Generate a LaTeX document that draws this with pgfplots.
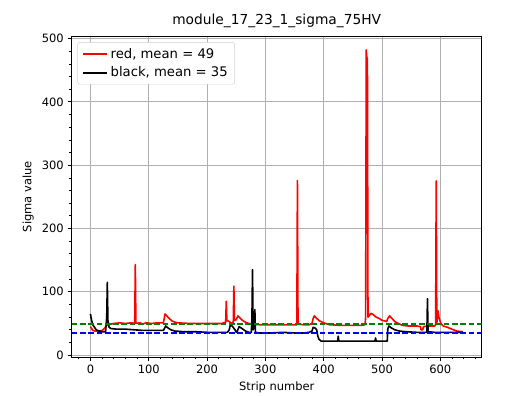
\documentclass[border=0pt]{standalone}
\usepackage{pgfplots}
\pgfplotsset{compat=1.18}
\usepackage{fontspec}
\setmainfont{DejaVu Sans}
\definecolor{mplgreen}{HTML}{008000}
\definecolor{mplblue}{HTML}{0000FF}
\definecolor{gridgray}{HTML}{B0B0B0}
\begin{document}
\begin{tikzpicture}
\path[use as bounding box] (0,0) rectangle (460.8pt,344.1pt);
\begin{axis}[
  at={(62.5pt,33.1pt)}, anchor=south west,
  scale only axis, width=357.1pt, height=279.6pt,
  xmin=-32, xmax=671, ymin=-3, ymax=504,
  xtick={0,100,...,600}, ytick={0,100,...,500},
  minor xtick={-20,20,40,60,80,120,140,160,180,220,240,260,280,320,340,360,380,420,440,460,480,520,540,560,580,620,640,660},
  minor ytick={20,40,60,80,120,140,160,180,220,240,260,280,320,340,360,380,420,440,460,480},
  tick align=outside, tick pos=left,
  major tick length=3.5pt, minor tick length=2pt,
  every tick/.style={black, line width=0.8pt},
  minor tick style={line width=0.6pt},
  axis line style={line width=0.8pt},
  grid=major, major grid style={gridgray, line width=0.8pt},
  /pgf/number format/assume math mode=true,
  tick label style={font=\fontsize{10}{12}\selectfont},
  label style={font=\fontsize{10}{12}\selectfont},
  title style={font=\fontsize{12}{14}\selectfont, yshift=-2pt},
  title={module\_17\_23\_1\_sigma\_75HV},
  xlabel={Strip number}, ylabel={Sigma value},
  legend style={at={(0.014,0.981)}, anchor=north west, draw=gray!35, rounded corners=2pt, font=\fontsize{11.5}{13.5}\selectfont, inner xsep=4pt, inner ysep=3pt, row sep=2pt},
  legend cell align=left,
  legend image code/.code={\draw[#1, line width=1.6pt] (0cm,0cm) -- (0.74cm,0cm);},
]
\addplot[red, line width=1.4pt, line join=round] coordinates {
(0,45) (2,42) (4,39) (8,38) (15,38) (20,39) (24,42) (27,46) (30,48) (40,50) (50,51) (60,50) (70,51) (76,50) (77,143) (78,50) (85,51) (90,49) (95,51) (105,50) (115,51) (125,51) (126,55) (128,65) (131,62) (135,58) (140,54) (145,52) (150,51) (170,50) (190,50) (210,50) (225,50) (232,52) (233,85) (234,55) (238,53) (242,50) (245,52) (246,109) (247,55) (250,56) (253,62) (257,58) (262,54) (268,51) (275,49) (290,48) (310,48) (330,48) (345,48) (354,48) (355,276) (356,49) (365,48) (375,48) (380,50) (382,58) (384,62) (388,58) (393,54) (400,51) (410,48) (430,47) (450,47) (465,47) (471,48) (472,60) (473,482) (474,470) (475,468) (476,60) (478,62) (481,66) (485,64) (490,60) (495,58) (500,55) (505,54) (508,53) (510,58) (513,62) (517,58) (522,53) (528,50) (535,47) (545,46) (560,46) (566,45) (567,40) (570,40) (571,45) (580,46) (590,46) (592,48) (593,275) (594,50) (596,70) (598,58) (601,50) (605,46) (612,44) (620,41) (628,38) (639,37)
};
\addlegendentry{red, mean = 49}
\addplot[black, line width=1.4pt, line join=round] coordinates {
(0,65) (2,55) (4,48) (7,44) (10,40) (15,38) (20,37) (26,37) (28,60) (29,115) (30,55) (32,44) (35,42) (45,41) (60,41) (75,40) (90,39) (110,39) (125,39) (127,42) (129,46) (133,43) (138,40) (145,38) (160,37) (180,37) (200,36) (220,36) (235,36) (238,40) (240,48) (243,46) (248,40) (250,36) (252,38) (255,45) (260,42) (266,38) (272,36) (276,36) (277,60) (278,135) (279,40) (281,45) (282,72) (283,36) (290,35) (310,35) (330,36) (350,35) (365,35) (375,36) (380,38) (382,44) (385,43) (388,40) (390,30) (392,25) (396,22) (410,22) (424,22) (425,30) (426,22) (450,22) (470,22) (488,22) (489,27) (490,22) (505,22) (509,22) (510,42) (512,46) (516,43) (522,40) (530,38) (540,37) (560,36) (577,36) (578,89) (579,37) (590,36) (610,36) (625,36) (639,36)
};
\addlegendentry{black, mean = 35}
\addplot[mplgreen, line width=1.3pt, dash pattern=on 5pt off 2.2pt, forget plot] coordinates {(-32,49) (671,49)};
\addplot[mplblue, line width=1.3pt, dash pattern=on 5pt off 2.2pt, forget plot] coordinates {(-32,35) (671,35)};
\end{axis}
\end{tikzpicture}
\end{document}
